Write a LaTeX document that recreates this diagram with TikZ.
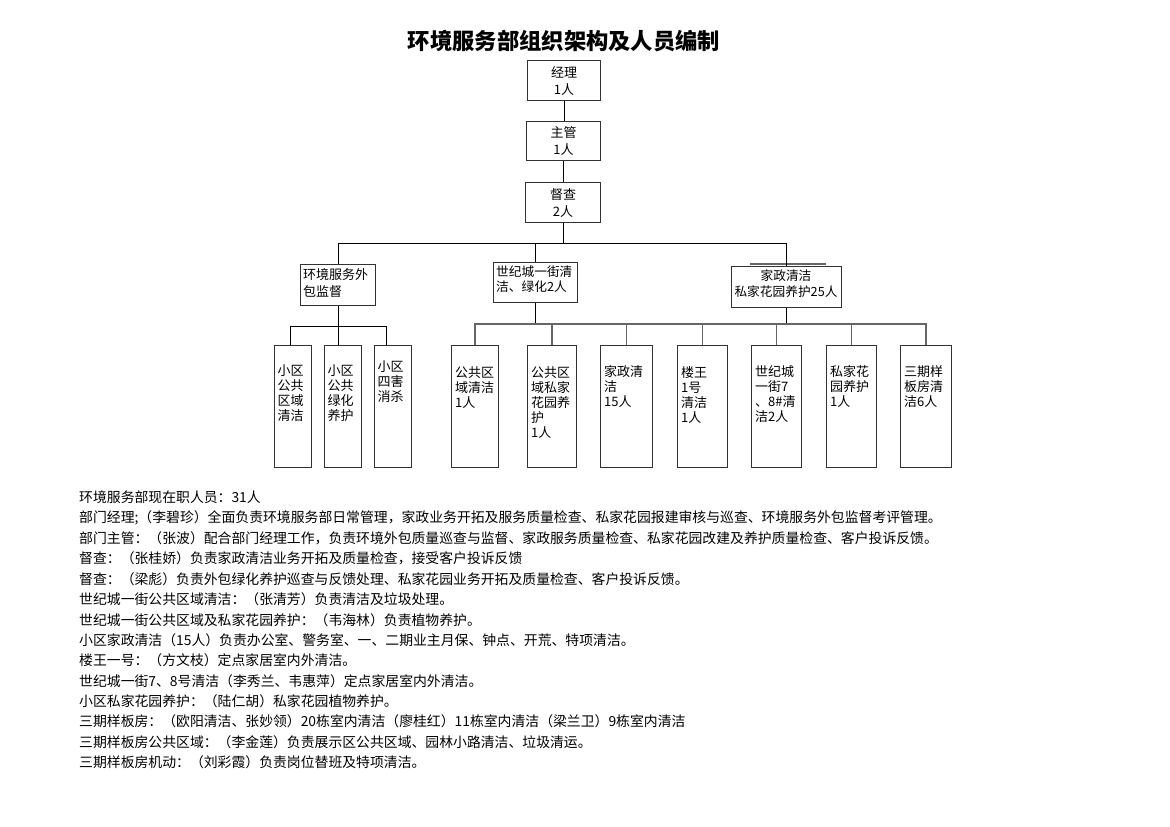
\documentclass[tikz,border=0pt]{standalone}
\usepackage{fontspec}
\setmainfont{Noto Sans CJK SC}
\newcommand{\pr}[2]{\makebox[25pt]{#1\hfill#2}}
\begin{document}
\begin{tikzpicture}[x=1pt,y=-1pt,
  box/.style={draw=black!80, line width=1.1pt, anchor=north west, inner sep=0pt, align=center,
    font=\fontsize{13}{17}\selectfont},
  conn/.style={draw=black, line width=0.9pt},
  gconn/.style={draw=black!60, line width=1.4pt},
  txt/.style={font=\fontsize{13}{15}\selectfont, inner sep=0pt, align=left, anchor=north west},
  body/.style={font=\fontsize{13.85}{16}\selectfont, inner sep=0pt, anchor=west}]
\useasboundingbox[fill=white] (0,0) rectangle (1170,827);

\node[font=\fontsize{22.3}{24}\selectfont\bfseries, inner sep=0pt] (title) at (564,41) {环境服务部组织架构及人员编制};

% top chain
\node[box, minimum width=73pt, minimum height=40pt] (jl) at (527,60) {经理\\1人};
\node[box, minimum width=74pt, minimum height=39pt] (zg) at (526,121) {主管\\1人};
\node[box, minimum width=75pt, minimum height=40pt] (dc) at (525,182) {督查\\2人};

% middle row
\node[box, minimum width=75pt, minimum height=41pt] (wb) at (300,264) {};
\node[box, minimum width=84pt, minimum height=40pt] (sj) at (493,262) {};
\node[box, minimum width=110pt, minimum height=41pt] (jz) at (731,266) {};
\draw[gconn] (750,264) -- (826,264);

\node[txt, font=\fontsize{13}{17}\selectfont] (wbt) at (303,268) {环境服务外\\包监督};
\node[txt, font=\fontsize{12.7}{14.5}\selectfont] (sjt) at (496,266) {世纪城一街清\\洁、绿化2人};
\node[txt, anchor=north, align=center, font=\fontsize{12.7}{16}\selectfont] (jzt) at (786,270) {家政清洁\\私家花园养护25人};

% left group
\node[box, minimum width=37pt, minimum height=122pt] (a1) at (274,345) {};
\node[box, minimum width=37pt, minimum height=122pt] (a2) at (324,345) {};
\node[box, minimum width=37pt, minimum height=122pt] (a3) at (374,345) {};
\node[txt] (a1t) at (278,365) {\pr{小}{区}\\\pr{公}{共}\\\pr{区}{域}\\\pr{清}{洁}};
\node[txt] (a2t) at (328,365) {\pr{小}{区}\\\pr{公}{共}\\\pr{绿}{化}\\\pr{养}{护}};
\node[txt] (a3t) at (378,361) {\pr{小}{区}\\\pr{四}{害}\\\pr{消}{杀}};

% right group
\node[box, minimum width=47pt, minimum height=122pt] (b1) at (451,345) {};
\node[box, minimum width=49pt, minimum height=122pt] (b2) at (527,345) {};
\node[box, minimum width=52pt, minimum height=122pt] (b3) at (600,345) {};
\node[box, minimum width=50pt, minimum height=122pt] (b4) at (677,345) {};
\node[box, minimum width=50pt, minimum height=122pt] (b5) at (751,345) {};
\node[box, minimum width=50pt, minimum height=122pt] (b6) at (826,345) {};
\node[box, minimum width=51pt, minimum height=122pt] (b7) at (900,345) {};
\node[txt] (b1t) at (455,366) {公共区\\域清洁\\1人};
\node[txt] (b2t) at (531,366) {公共区\\域私家\\花园养\\护\\1人};
\node[txt] (b3t) at (604,365) {家政清\\洁\\15人};
\node[txt] (b4t) at (681,366) {楼王\\1号\\清洁\\1人};
\node[txt] (b5t) at (755,365) {世纪城\\一街7\\、8\#清\\洁2人};
\node[txt] (b6t) at (830,365) {私家花\\园养护\\1人};
\node[txt] (b7t) at (904,365) {三期样\\板房清\\洁6人};

% connectors
\coordinate (bus) at (562,243);
\coordinate (rbus) at (535,324);
\draw[conn] (jl.south) -- (jl.south |- zg.north);
\draw[conn] (zg.south) -- (zg.south |- dc.north);
\draw[conn] (dc.south) -- (dc.south |- bus);
\draw[conn] (wb.north) -- (wb.north |- bus) -| (jz.north);
\draw[conn] (sj.north) -- (sj.north |- bus);

\coordinate (la1) at (290,326);
\coordinate (la3) at (386,326);
\draw[conn] (wb.south) -- (wb.south |- a2.north);
\draw[conn] (la1 |- a1.north) -- (la1) -- (la3) -- (la3 |- a3.north);

\draw[conn] (sj.south) -- (sj.south |- rbus);
\draw[conn] (jz.south) -- (jz.south |- rbus);
\draw[gconn] (b1.north) -- (b1.north |- rbus) -- (b7.north |- rbus) -- (b7.north);
\foreach \b in {b2,b3,b4,b5,b6}{\draw[gconn] (\b.north) -- (\b.north |- rbus);}

% body text
\node[body] (l1) at (79,497) {环境服务部现在职人员：31人};
\node[body] (l2) at (79,517.5) {部门经理;（李碧珍）全面负责环境服务部日常管理，家政业务开拓及服务质量检查、私家花园报建审核与巡查、环境服务外包监督考评管理。};
\node[body] (l3) at (79,538) {部门主管：（张波）配合部门经理工作，负责环境外包质量巡查与监督、家政服务质量检查、私家花园改建及养护质量检查、客户投诉反馈。};
\node[body] (l4) at (79,558.5) {督查：（张桂娇）负责家政清洁业务开拓及质量检查，接受客户投诉反馈};
\node[body] (l5) at (79,579) {督查：（梁彪）负责外包绿化养护巡查与反馈处理、私家花园业务开拓及质量检查、客户投诉反馈。};
\node[body] (l6) at (79,599.5) {世纪城一街公共区域清洁：（张清芳）负责清洁及垃圾处理。};
\node[body] (l7) at (79,620) {世纪城一街公共区域及私家花园养护：（韦海林）负责植物养护。};
\node[body] (l8) at (79,640) {小区家政清洁（15人）负责办公室、警务室、一、二期业主月保、钟点、开荒、特项清洁。};
\node[body] (l9) at (79,660.5) {楼王一号：（方文枝）定点家居室内外清洁。};
\node[body] (l10) at (79,681) {世纪城一街7、8号清洁（李秀兰、韦惠萍）定点家居室内外清洁。};
\node[body] (l11) at (79,701) {小区私家花园养护：（陆仁胡）私家花园植物养护。};
\node[body] (l12) at (79,721.5) {三期样板房：（欧阳清洁、张妙领）20栋室内清洁（廖桂红）11栋室内清洁（梁兰卫）9栋室内清洁};
\node[body] (l13) at (79,742) {三期样板房公共区域：（李金莲）负责展示区公共区域、园林小路清洁、垃圾清运。};
\node[body] (l14) at (79,762) {三期样板房机动：（刘彩霞）负责岗位替班及特项清洁。};
\end{tikzpicture}
\end{document}
